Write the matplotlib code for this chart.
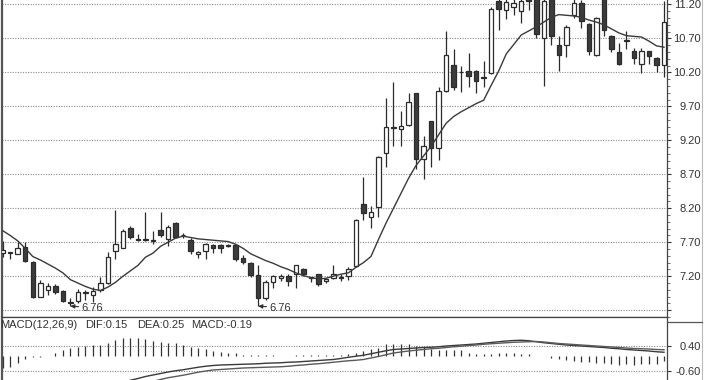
import matplotlib.pyplot as plt
from matplotlib.lines import Line2D
import numpy as np

plt.rcParams['font.family'] = ['Liberation Sans', 'DejaVu Sans']

# daily candles
opens = [7.54, 7.54, 7.53, 7.63, 7.41, 6.90, 6.99, 7.06, 6.98, 6.82,
         6.83, 6.96, 6.92, 7.00, 7.10, 7.57, 7.62, 7.91, 7.74, 7.73,
         7.72, 7.88, 7.75, 7.98, 7.80, 7.74, 7.52, 7.57, 7.66, 7.66,
         7.66, 7.66, 7.47, 7.39, 7.22, 6.88, 7.11, 7.17, 7.21, 7.23,
         7.30, 7.18, 7.23, 7.13, 7.18, 7.19, 7.21, 7.35, 8.27, 8.07,
         8.22, 9.02, 9.38, 9.36, 9.43, 9.89, 8.93, 9.48, 9.08, 9.92,
         10.31, 10.20, 10.22, 10.22, 10.12, 10.19, 11.25, 11.12, 11.16, 11.10,
         11.28, 11.30, 10.71, 11.28, 10.61, 10.60, 11.04, 11.22, 10.91, 10.45,
         11.28, 10.73, 10.50, 10.66, 10.51, 10.33, 10.51, 10.41, 10.31]
highs = [7.72, 7.56, 7.70, 7.71, 7.42, 7.15, 7.10, 7.09, 7.00, 6.88,
         7.01, 7.00, 7.04, 7.19, 7.55, 8.18, 7.90, 7.94, 7.82, 8.14,
         7.87, 8.14, 7.96, 8.00, 7.84, 7.76, 7.57, 7.69, 7.68, 7.67,
         7.67, 7.67, 7.51, 7.41, 7.37, 7.15, 7.22, 7.23, 7.23, 7.37,
         7.32, 7.19, 7.24, 7.18, 7.37, 7.24, 7.33, 8.04, 8.66, 8.24,
         8.97, 9.83, 10.06, 9.63, 9.90, 9.90, 9.27, 9.49, 9.99, 10.81,
         10.54, 10.30, 10.48, 10.23, 10.37, 11.16, 11.35, 11.35, 11.30, 11.32,
         11.40, 11.40, 11.35, 11.40, 10.73, 10.89, 11.28, 11.26, 10.93, 11.01,
         11.35, 10.75, 10.63, 10.81, 10.56, 10.56, 10.52, 10.42, 11.25]
lows = [7.48, 7.46, 7.52, 7.41, 6.88, 6.89, 6.93, 6.94, 6.82, 6.76,
        6.81, 6.85, 6.82, 6.97, 7.08, 7.45, 7.61, 7.75, 7.72, 7.72,
        7.68, 7.78, 7.64, 7.76, 7.76, 7.52, 7.47, 7.45, 7.54, 7.54,
        7.63, 7.43, 7.38, 7.19, 6.76, 6.85, 7.03, 7.13, 7.05, 7.02,
        7.20, 7.12, 7.06, 7.10, 7.16, 7.13, 7.14, 7.34, 8.03, 7.91,
        8.07, 8.81, 9.12, 9.12, 9.41, 8.78, 8.63, 8.81, 8.91, 9.91,
        9.94, 9.91, 9.98, 9.89, 9.98, 10.18, 10.82, 10.99, 11.04, 10.92,
        11.12, 10.71, 10.00, 10.60, 10.22, 10.42, 11.00, 10.86, 10.45, 10.44,
        10.74, 10.50, 10.31, 10.55, 10.32, 10.19, 10.32, 10.21, 10.13]
closes = [7.58, 7.55, 7.62, 7.43, 6.90, 7.10, 7.05, 6.97, 6.83, 6.80,
          6.97, 6.97, 6.98, 7.10, 7.49, 7.68, 7.87, 7.78, 7.73, 7.74,
          7.73, 7.80, 7.93, 7.78, 7.81, 7.57, 7.55, 7.67, 7.61, 7.62,
          7.65, 7.46, 7.41, 7.22, 6.88, 7.12, 7.20, 7.21, 7.13, 7.36,
          7.23, 7.17, 7.08, 7.16, 7.23, 7.18, 7.31, 8.03, 8.13, 8.14,
          8.95, 9.40, 9.39, 9.41, 9.76, 8.93, 9.11, 9.08, 9.92, 10.46,
          9.99, 10.21, 10.14, 10.07, 10.13, 11.13, 11.13, 11.24, 11.22, 11.25,
          11.25, 10.77, 11.25, 10.73, 10.46, 10.87, 11.22, 10.96, 10.52, 11.00,
          10.82, 10.55, 10.32, 10.67, 10.41, 10.51, 10.44, 10.31, 10.94]
ma = [7.87, 7.80, 7.72, 7.61, 7.49, 7.44, 7.38, 7.32, 7.25, 7.15,
      7.10, 7.05, 7.01, 6.99, 7.04, 7.11, 7.20, 7.28, 7.36, 7.48,
      7.54, 7.64, 7.70, 7.76, 7.79, 7.77, 7.75, 7.74, 7.73, 7.72,
      7.71, 7.67, 7.61, 7.53, 7.48, 7.43, 7.39, 7.34, 7.30, 7.25,
      7.21, 7.18, 7.16, 7.17, 7.20, 7.23, 7.25, 7.33, 7.40, 7.49,
      7.74, 7.98, 8.20, 8.42, 8.64, 8.83, 8.97, 9.11, 9.28, 9.45,
      9.55, 9.62, 9.68, 9.74, 9.79, 10.01, 10.22, 10.47, 10.61, 10.75,
      10.81, 10.87, 10.94, 11.01, 11.05, 11.04, 11.03, 11.01, 10.97, 10.94,
      10.90, 10.84, 10.78, 10.74, 10.73, 10.72, 10.66, 10.59, 10.57]

# MACD(12,26,9) panel
nan = float('nan')
dif = [nan] * 14 + [
    -1.30, -1.12, -1.05, -0.97, -0.90, -0.82, -0.76, -0.70, -0.64, -0.59,
    -0.55, -0.50, -0.45, -0.41, -0.38, -0.36, -0.35, -0.34, -0.33, -0.32,
    -0.31, -0.29, -0.28, -0.27, -0.25, -0.24, -0.22, -0.20, -0.18, -0.16,
    -0.14, -0.10, -0.05, -0.01, 0.03, 0.09, 0.15, 0.21, 0.26, 0.28,
    0.30, 0.32, 0.34, 0.35, 0.37, 0.40, 0.42, 0.44, 0.46, 0.48,
    0.51, 0.54, 0.57, 0.60, 0.62, 0.63, 0.61, 0.57, 0.53, 0.50,
    0.47, 0.44, 0.42, 0.40, 0.38, 0.36, 0.34, 0.31, 0.29, 0.26,
    0.24, 0.22, 0.20, 0.17, 0.15]
dea = [nan] * 18 + [
    -1.25, -1.12, -1.02, -0.94, -0.87, -0.82, -0.77, -0.71, -0.65, -0.60,
    -0.56, -0.54, -0.52, -0.50, -0.48, -0.47, -0.46, -0.45, -0.44, -0.43,
    -0.41, -0.38, -0.36, -0.33, -0.31, -0.28, -0.25, -0.22, -0.19, -0.17,
    -0.14, -0.08, -0.02, 0.05, 0.12, 0.16, 0.20, 0.23, 0.26, 0.29,
    0.31, 0.34, 0.37, 0.39, 0.42, 0.44, 0.47, 0.49, 0.51, 0.53,
    0.55, 0.56, 0.57, 0.58, 0.56, 0.53, 0.50, 0.48, 0.46, 0.44,
    0.42, 0.40, 0.38, 0.36, 0.34, 0.32, 0.30, 0.29, 0.28, 0.26,
    0.25]
macd_hist = [-0.49, -0.43, -0.29, -0.13, -0.04, -0.02, 0.02, 0.11, 0.24, 0.31,
             0.37, 0.41, 0.44, 0.44, 0.51, 0.64, 0.71, 0.71, 0.71, 0.67,
             0.61, 0.57, 0.53, 0.51, 0.44, 0.37, 0.31, 0.27, 0.21, 0.17,
             0.13, 0.11, 0.04, 0.04, 0.03, 0.03, 0.03, 0.02, 0.02, 0.03,
             0.03, 0.03, 0.04, 0.04, 0.05, 0.06, 0.08, 0.14, 0.20, 0.27,
             0.33, 0.47, 0.49, 0.49, 0.47, 0.40, 0.36, 0.27, 0.23, 0.23,
             0.23, 0.23, 0.13, 0.09, 0.07, 0.09, 0.13, 0.13, 0.13, 0.09,
             0.07, 0.00, -0.01, -0.07, -0.13, -0.17, -0.20, -0.23, -0.23, -0.27,
             -0.27, -0.31, -0.36, -0.33, -0.36, -0.33, -0.33, -0.31, -0.19]

price_grid = [6.70, 7.20, 7.70, 8.20, 8.70, 9.20, 9.70, 10.20, 10.70, 11.20]
macd_grid = [0.40, -0.60]

INK = '#2b2b2b'
GRID = '#8a8a8a'

fig = plt.figure(figsize=(7.2, 3.8), dpi=100)
ax = fig.add_axes([2 / 720, 63 / 380, 665 / 720, 317 / 380])
ax2 = fig.add_axes([2 / 720, 0, 665 / 720, 63 / 380])

idx = np.arange(len(closes))
o = np.array(opens)
c = np.array(closes)
up = c >= o
body_low = np.minimum(o, c)
body_h = np.maximum(np.abs(c - o), 0.012)

for p in price_grid:
    ax.axhline(p, color=GRID, lw=0.8, ls=(0, (1, 1.3)), zorder=1)
ax.vlines(idx, lows, highs, color=INK, lw=0.9, zorder=2)
ax.bar(idx, body_h, bottom=body_low, width=0.6,
       color=np.where(up, 'white', '#3c3c3c'), edgecolor=INK, linewidth=0.9, zorder=3)
ax.plot(idx, ma, color='#3a3a3a', lw=1.0, zorder=4)

# lowest low markers
low_val = min(lows)
for i in [k for k, v in enumerate(lows) if v == low_val]:
    ax.annotate(f'{low_val:.2f}', xy=(i, low_val), xytext=(8, -1),
                textcoords='offset points', fontsize=8, color='#333',
                ha='left', va='center', zorder=5,
                arrowprops=dict(arrowstyle='-|>', color='#333', lw=0.8,
                                mutation_scale=6, shrinkA=0, shrinkB=0))

ax.set_xlim(-0.7 / 7.515, 664.3 / 7.515)
ax.set_ylim(6.60, 11.265)
ax.set_xticks([])
ax.yaxis.tick_right()
ax.set_yticks(price_grid)
ax.set_yticklabels([''] + [f'{p:.2f}' for p in price_grid[1:]])
ax.set_yticks(np.arange(6.6, 11.25, 0.1), minor=True)
ax.tick_params(axis='y', which='major', length=3, pad=21.6, labelsize=8,
               colors='#333', width=0.8)
ax.tick_params(axis='y', which='minor', length=1.8, width=0.6, colors='#555')
for lbl in ax.get_yticklabels():
    lbl.set_horizontalalignment('right')
ax.spines['top'].set_visible(False)
ax.spines['left'].set_linewidth(1.6)
ax.spines['left'].set_color('#555')
ax.spines['right'].set_color('#444')
ax.spines['bottom'].set_color('#444')
ax.spines['right'].set_linewidth(0.9)
ax.spines['bottom'].set_linewidth(0.9)

# MACD panel
for p in macd_grid:
    ax2.axhline(p, color=GRID, lw=0.8, ls=(0, (1, 1.3)), zorder=1)
ax2.vlines(idx, 0, macd_hist, color='#333', lw=0.9, zorder=2)
ax2.plot(idx, dif, color='#3a3a3a', lw=1.0, zorder=3)
ax2.plot(idx, dea, color='#5a5a5a', lw=1.0, zorder=3)
ax2.set_xlim(ax.get_xlim())
ax2.set_ylim(-0.96, 1.56)
ax2.set_xticks([])
ax2.yaxis.tick_right()
ax2.set_yticks(macd_grid)
ax2.set_yticklabels([f'{p:.2f}' for p in macd_grid])
ax2.tick_params(axis='y', length=3, pad=21.6, labelsize=8, colors='#333', width=0.8)
for lbl in ax2.get_yticklabels():
    lbl.set_horizontalalignment('right')
ax2.spines['bottom'].set_visible(False)
ax2.spines['left'].set_linewidth(1.6)
ax2.spines['left'].set_color('#555')
ax2.spines['right'].set_color('#444')
ax2.spines['top'].set_color('#444')
ax2.spines['right'].set_linewidth(0.9)
ax2.spines['top'].set_linewidth(0.9)

head = [('MACD(12,26,9)', -2), (f'DIF:{dif[-1]:.2f}', 83),
        (f'DEA:{dea[-1]:.2f}', 135), (f'MACD:{macd_hist[-1]:.2f}', 189)]
for txt, px in head:
    ax2.text(px / 665, 0.88, txt, transform=ax2.transAxes, fontsize=8,
             color='#333', ha='left', va='center')

# frame around the price labels on the right
fig.add_artist(Line2D([702 / 720, 702 / 720], [0, 1], color='#bbbbbb', lw=0.8))
fig.add_artist(Line2D([667 / 720, 702 / 720], [58 / 380, 58 / 380], color='#555', lw=0.9))

fig.savefig('out.png', dpi=100, facecolor='white')
